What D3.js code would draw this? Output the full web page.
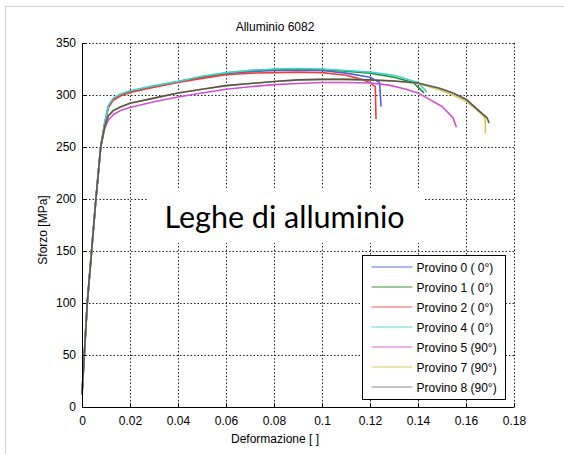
<!DOCTYPE html>
<html>
<head>
<meta charset="utf-8">
<script src="https://cdn.jsdelivr.net/npm/d3@7"></script>
<style>
    html, body { margin: 0; padding: 0; background: #fff; }
    svg { display: block; font-family: "Liberation Sans", Arial, sans-serif; }
</style>
</head>
<body>
<svg id="chart" width="564" height="454"></svg>
<script>

//
// ***********************************************************************************
//                      DATA
// ***********************************************************************************
//

const TITLE = "Alluminio 6082";
const X_LABEL = "Deformazione [ ]";
const Y_LABEL = "Sforzo [MPa]";
const OVERLAY = "Leghe di alluminio";

const xTicks = [0, 0.02, 0.04, 0.06, 0.08, 0.1, 0.12, 0.14, 0.16, 0.18];
const xTickLabels = ["0", "0.02", "0.04", "0.06", "0.08", "0.1", "0.12", "0.14", "0.16", "0.18"];
const yTicks = [0, 50, 100, 150, 200, 250, 300, 350];
const yTickLabels = ["0", "50", "100", "150", "200", "250", "300", "350"];

const seriesNames = ["Provino 0 ( 0°)", "Provino 1 ( 0°)", "Provino 2 ( 0°)", "Provino 4 ( 0°)",
                     "Provino 5 (90°)", "Provino 7 (90°)", "Provino 8 (90°)"];
const seriesColors = ["#4f5fe0", "#2a8a2a", "#f23c3c", "#3fd2d2", "#d64ed6", "#d2c84a", "#555555"];
const legendColors = ["#5a6ae6", "#3a963a", "#f65a5a", "#5ad8d8", "#d868d8", "#d8cc5a", "#8c8c8c"];

// strain / stress samples
const strain0 = [0, .0022, .004, .0058, .0078, .0095, .011, .013, .016, .02, .03, .04, .05, .06, .07, .08, .09, .10, .11, .12, .124, .1246];
const stress0 = [12, 100, 150, 200, 250, 273, 289, 296, 300, 303, 308, 312.5, 317, 320.5, 322.5, 323.5, 324, 323.5, 321, 317, 312, 289];

const strain1 = [0, .0022, .004, .0058, .0078, .0095, .011, .013, .016, .02, .03, .04, .05, .06, .07, .08, .09, .10, .11, .12, .13, .138, .1425];
const stress1 = [12, 100, 150, 200, 250, 273, 289, 296, 300, 303.5, 308.5, 313, 317.5, 321, 323.5, 324.5, 325, 324.5, 323, 321, 317, 312, 302];

const strain2 = [0, .0022, .004, .0058, .0078, .0095, .011, .013, .016, .02, .03, .04, .05, .06, .07, .08, .09, .10, .11, .115, .12, .1222, .1225];
const stress2 = [12, 100, 150, 200, 250, 273, 288, 295, 299, 302.5, 307.5, 312, 316, 319.5, 321, 321.5, 322, 321.5, 319, 316, 312, 308, 277];

const strain4 = [0, .0022, .004, .0058, .0078, .0095, .011, .013, .016, .02, .03, .04, .05, .06, .07, .08, .09, .10, .11, .12, .13, .14, .1437];
const stress4 = [12, 100, 150, 200, 250, 274, 290, 297, 301, 304, 309, 313, 318, 321.5, 323.5, 325, 325.5, 325, 323.5, 322, 319, 312, 303];

const strain5 = [0, .0022, .004, .0058, .0078, .0095, .011, .013, .016, .02, .03, .04, .05, .06, .07, .08, .09, .10, .11, .12, .128, .135, .14, .15, .1546, .156];
const stress5 = [12, 100, 150, 200, 250, 268, 276, 281, 285, 288, 293.5, 298, 302, 305.5, 308, 310, 311, 312, 312, 311.5, 309.5, 305.5, 302, 289, 278, 269];

const strain7 = [0, .0022, .004, .0058, .0078, .0095, .011, .013, .016, .02, .03, .04, .05, .06, .07, .08, .09, .10, .11, .12, .13, .14, .149, .1546, .16, .1658, .1675, .168, .1681];
const stress7 = [12, 100, 150, 200, 250, 270, 280, 285, 288.5, 292, 297, 302, 305.5, 309, 311, 313, 314.5, 315, 315, 314.5, 313.5, 311, 305, 300, 294, 283, 279, 277, 263];

const strain8 = [0, .0022, .004, .0058, .0078, .0095, .011, .013, .016, .02, .03, .04, .05, .06, .07, .08, .09, .10, .11, .12, .13, .14, .149, .1546, .16, .1658, .1688, .1696];
const stress8 = [12, 100, 150, 200, 250, 270, 280, 285, 288.5, 292, 297, 302, 305.5, 309, 311, 313, 314.5, 315, 315, 314.5, 313.5, 311.5, 306.5, 302, 296, 284, 278, 273];

const strains = [strain0, strain1, strain2, strain4, strain5, strain7, strain8];
const stresses = [stress0, stress1, stress2, stress4, stress5, stress7, stress8];

//
// ***********************************************************************************
//                      CHART
// ***********************************************************************************
//

const svg = d3.select("#chart");

const margin = { top: 43, right: 50, bottom: 47, left: 82 };
const width = 564 - margin.left - margin.right;
const height = 454 - margin.top - margin.bottom;

const xScale = d3.scaleLinear().domain([0, 0.18]).range([0, width]);
const yScale = d3.scaleLinear().domain([0, 350]).range([height, 0]);

// Page frame (slide border).
svg.append("path")
    .attr("d", "M5.5,454 V6.5 H564")
    .attr("fill", "none")
    .attr("stroke", "#cfcfcf");

const chart = svg.append("g")
    .attr("transform", `translate(${margin.left},${margin.top})`);

// Dotted grid.
chart.append("g")
    .selectAll("line")
    .data(xTicks.slice(1))
    .join("line")
    .attr("x1", d => xScale(d) + 0.5).attr("x2", d => xScale(d) + 0.5)
    .attr("y1", 0).attr("y2", height)
    .attr("stroke", "#222").attr("stroke-dasharray", "1.5,2");

chart.append("g")
    .selectAll("line")
    .data(yTicks.slice(1))
    .join("line")
    .attr("x1", 0).attr("x2", width)
    .attr("y1", d => yScale(d) + 0.5).attr("y2", d => yScale(d) + 0.5)
    .attr("stroke", "#222").attr("stroke-dasharray", "1.5,2");

// White box behind the overlay text.
chart.append("rect")
    .attr("x", 147 - margin.left).attr("y", 190 - margin.top)
    .attr("width", 278).attr("height", 53)
    .attr("fill", "#fff");

// Curves.
const line = d3.line()
    .x(d => xScale(d[0]))
    .y(d => yScale(d[1]));

chart.append("g")
    .selectAll("path")
    .data(strains.map((s, i) => s.map((x, j) => [x, stresses[i][j]])))
    .join("path")
    .attr("d", line)
    .attr("fill", "none")
    .attr("stroke", (d, i) => seriesColors[i])
    .attr("stroke-width", 1.6)
    .attr("stroke-linejoin", "round");

// Axes.
const xAxis = chart.append("g")
    .attr("transform", `translate(0,${height})`)
    .call(d3.axisBottom(xScale)
        .tickValues(xTicks)
        .tickFormat((d, i) => xTickLabels[i])
        .tickSizeInner(-4).tickSizeOuter(0).tickPadding(9));

const yAxis = chart.append("g")
    .call(d3.axisLeft(yScale)
        .tickValues(yTicks)
        .tickFormat((d, i) => yTickLabels[i])
        .tickSizeInner(-4).tickSizeOuter(0).tickPadding(6));

[xAxis, yAxis].forEach(a => {
    a.select(".domain").attr("stroke", "#000");
    a.selectAll(".tick line").attr("stroke", "#000");
    a.selectAll("text")
        .attr("fill", "#000")
        .attr("font-family", "Liberation Sans, Arial, sans-serif")
        .attr("font-size", 12);
});

// Title and axis labels.
svg.append("text")
    .attr("x", 275).attr("y", 31)
    .attr("text-anchor", "middle")
    .attr("font-size", 12)
    .text(TITLE);

svg.append("text")
    .attr("x", 275).attr("y", 443)
    .attr("text-anchor", "middle")
    .attr("font-size", 12)
    .text(X_LABEL);

svg.append("text")
    .attr("transform", "translate(47,230) rotate(-90)")
    .attr("text-anchor", "middle")
    .attr("font-size", 12)
    .text(Y_LABEL);

// Overlay text.
svg.append("text")
    .attr("x", 284.5).attr("y", 228)
    .attr("text-anchor", "middle")
    .attr("font-family", "Lato, 'Open Sans', sans-serif")
    .attr("font-size", 30.5)
    .attr("fill", "#000")
    .text(OVERLAY);

// Legend.
const legend = svg.append("g").attr("transform", "translate(362.5,255.5)");

legend.append("rect")
    .attr("width", 143).attr("height", 144)
    .attr("fill", "#fff")
    .attr("stroke", "#000");

const rows = legend.selectAll(".row")
    .data(seriesNames)
    .join("g")
    .attr("class", "row")
    .attr("transform", (d, i) => `translate(0,${11.5 + i * 20})`);

rows.append("line")
    .attr("x1", 9).attr("x2", 50)
    .attr("stroke", (d, i) => legendColors[i])
    .attr("stroke-width", 1.2);

rows.append("text")
    .attr("x", 54).attr("y", 4.5)
    .attr("font-size", 12)
    .text(d => d);

</script>
</body>
</html>
